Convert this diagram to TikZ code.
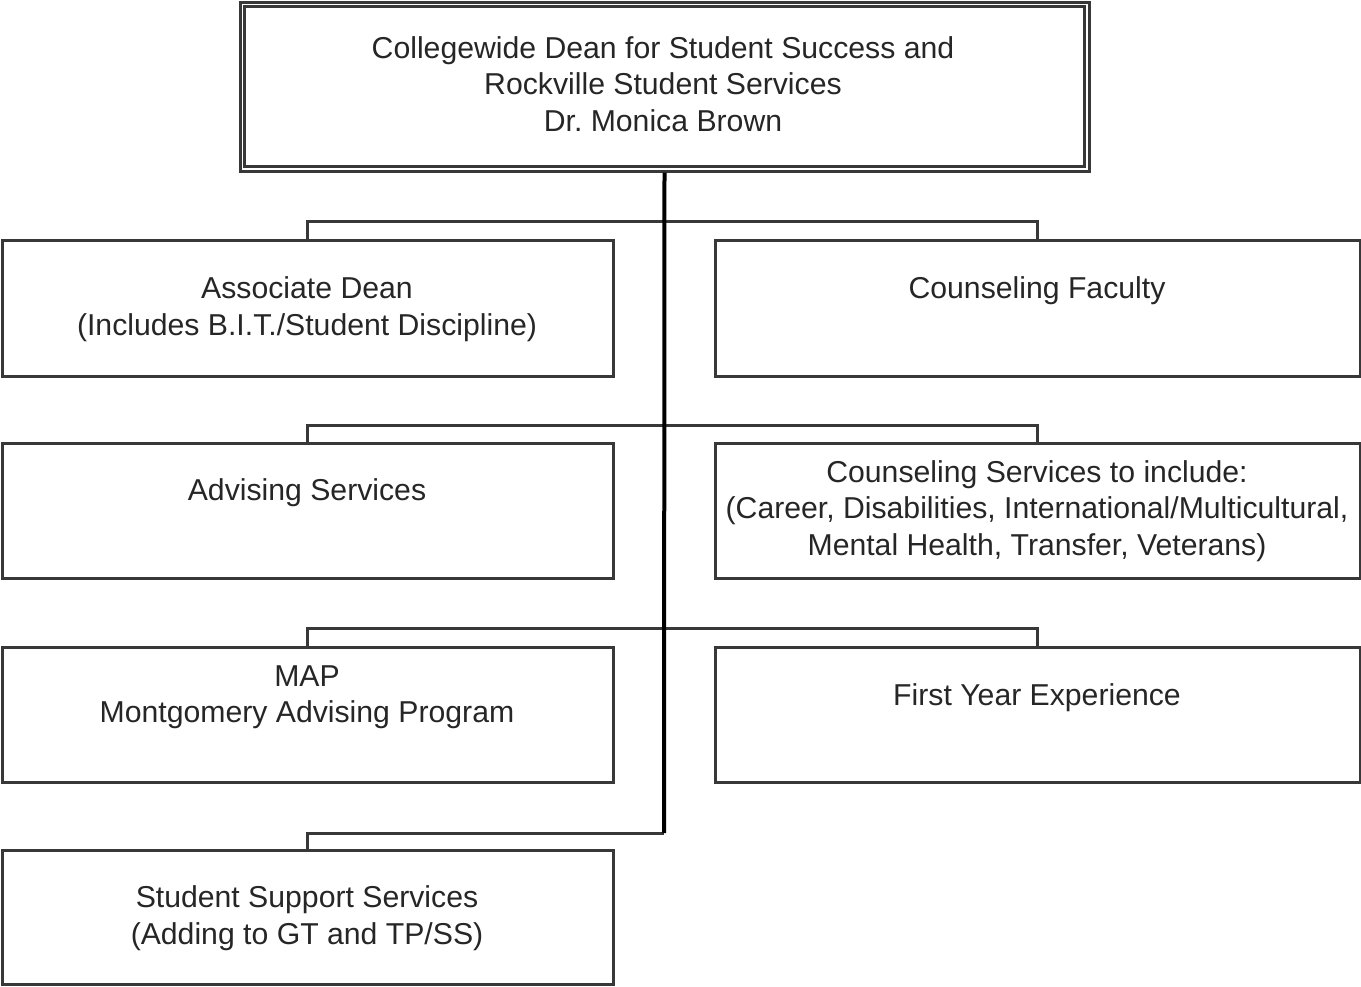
\documentclass[tikz,border=0pt]{standalone}
\usepackage{fontspec}
\setmainfont{Liberation Sans}
\frenchspacing
\begin{document}
\begin{tikzpicture}[x=1pt,y=-1pt,
  box/.style={draw=black!78,line width=3pt,rectangle,inner sep=0pt,fill=white},
  lbl/.style={align=center,text=black!85,font=\fontsize{30.2}{36.5}\selectfont,inner sep=0pt},
  conn/.style={draw=black!78,line width=3pt},
  trunk/.style={draw=black,line width=4pt}]
\useasboundingbox (0,0) rectangle (1361,986);
% boxes
\node[box,minimum width=849pt,minimum height=169pt] (top) at (664.5,86.5) {};
\node[box,minimum width=611pt,minimum height=136pt] (ad) at (307.5,308) {};
\node[box,minimum width=645pt,minimum height=136pt] (cf) at (1037.5,308) {};
\node[box,minimum width=611pt,minimum height=135pt] (as) at (307.5,510.5) {};
\node[box,minimum width=645pt,minimum height=135pt] (cs) at (1037.5,510.5) {};
\node[box,minimum width=611pt,minimum height=135pt] (map) at (307.5,714.5) {};
\node[box,minimum width=645pt,minimum height=135pt] (fye) at (1037.5,714.5) {};
\node[box,minimum width=611pt,minimum height=134pt] (sss) at (307.5,917) {};
\draw[draw=black!78,line width=3pt] ([shift={(6,6)}]top.north west) rectangle ([shift={(-6,-6)}]top.south east);
% connectors
\coordinate (bend) at (664,833);
\draw[conn] (ad.north) -- ++(0,-17) -| (cf.north);
\draw[conn] (as.north) -- ++(0,-16) -| (cs.north);
\draw[conn] (map.north) -- ++(0,-17) -| (fye.north);
\draw[conn] (bend) -| (sss.north);
\draw[trunk] (top.south) -- (bend);
% labels
\node[lbl] (tl) at (663,84) {Collegewide Dean for Student Success and\\Rockville Student Services\\Dr. Monica Brown};
\node[lbl] (adl) at (307,309) {Associate Dean\\(Includes B.I.T./Student Discipline)};
\node[lbl] (cfl) at (1037,291) {Counseling Faculty};
\node[lbl] (asl) at (307,493) {Advising Services};
\node[lbl] (csl) at (1037,511) {Counseling Services to include:\\(Career, Disabilities, International/Multicultural,\\Mental Health, Transfer, Veterans)};
\node[lbl] (mapl) at (307,697) {MAP\\Montgomery Advising Program};
\node[lbl] (fyel) at (1037,698) {First Year Experience};
\node[lbl] (sssl) at (307,918) {Student Support Services\\(Adding to GT and TP/SS)};
\end{tikzpicture}
\end{document}
